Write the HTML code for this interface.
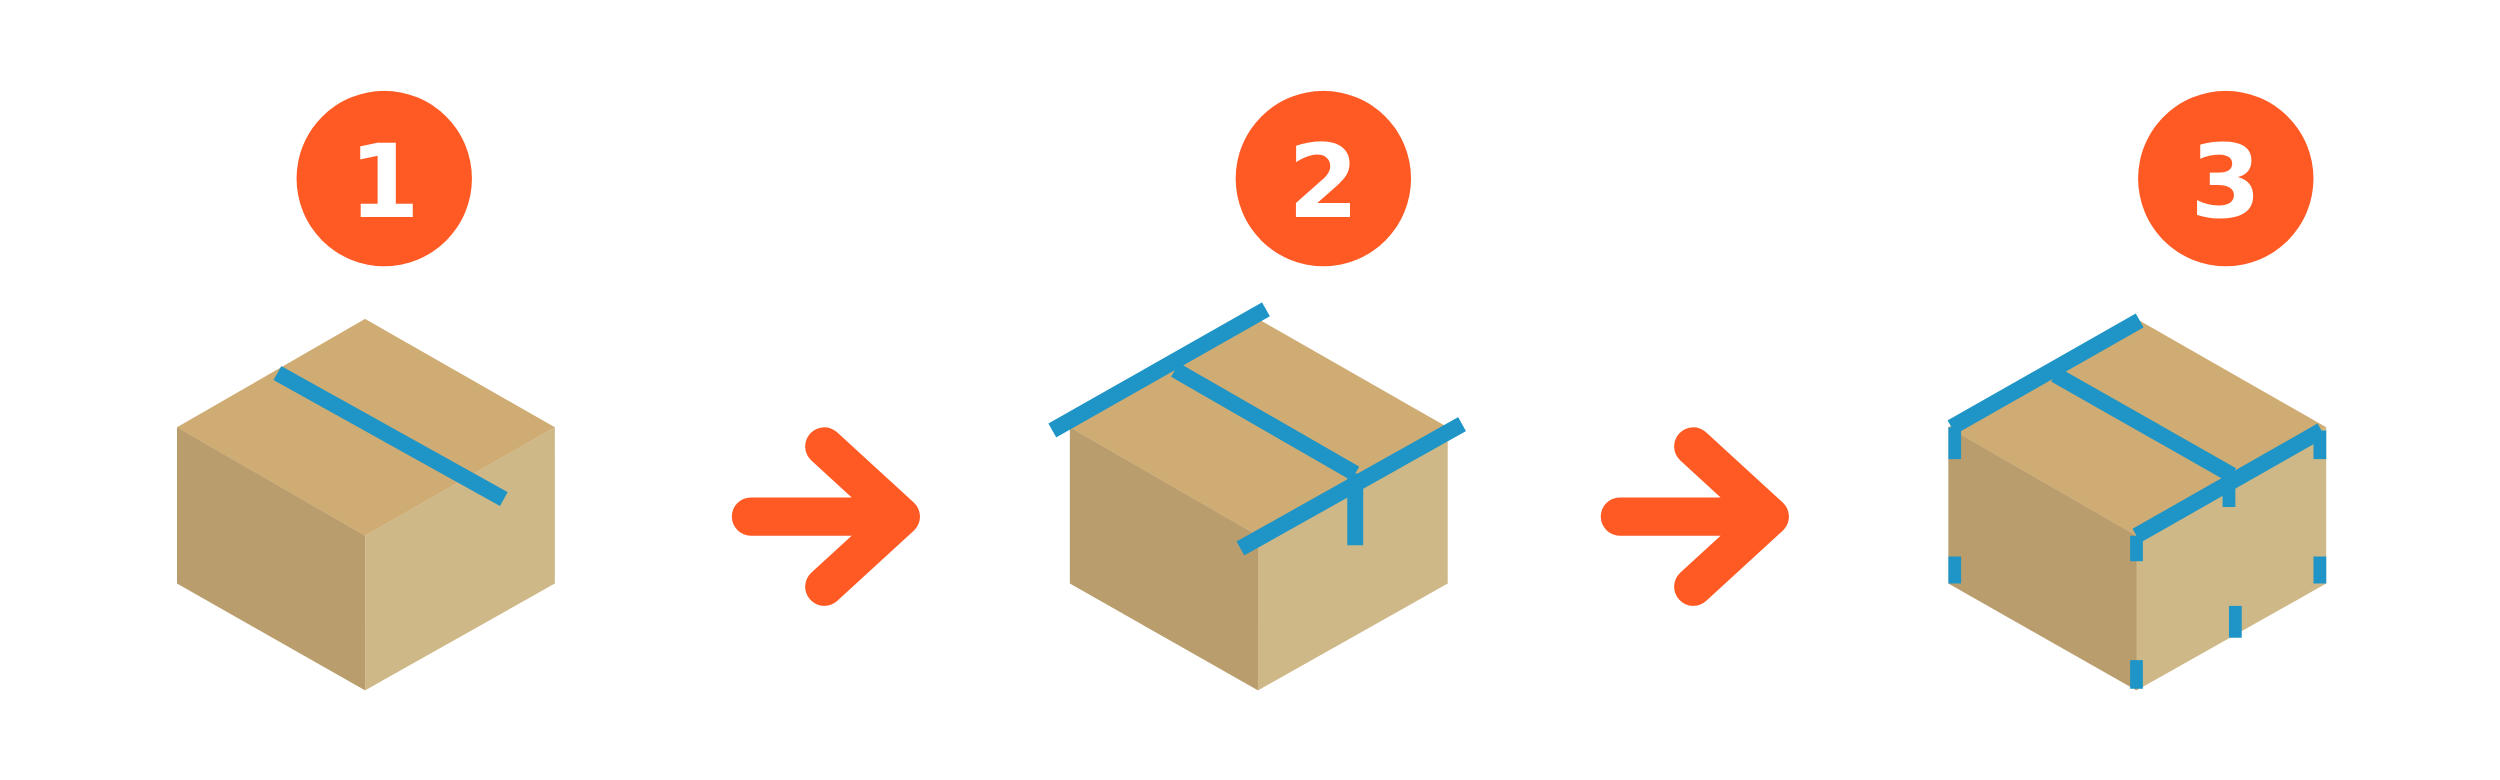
<!DOCTYPE html>
<html><head><meta charset="utf-8"><style>html,body{margin:0;padding:0;background:#fff}svg{display:block}</style></head>
<body>
<svg width="2500" height="780" xmlns="http://www.w3.org/2000/svg">
<g transform="scale(1.5944)">
<circle cx="241" cy="112" r="55" fill="#FF5A24"/>
<circle cx="830" cy="112" r="55" fill="#FF5A24"/>
<circle cx="1396" cy="112" r="55" fill="#FF5A24"/>
<text x="241" y="136" fill="#fff" text-anchor="middle" style="font-family:'DejaVu Sans','Liberation Sans',sans-serif;font-weight:bold;font-size:64px">1</text>
<text x="830" y="136" fill="#fff" text-anchor="middle" style="font-family:'DejaVu Sans','Liberation Sans',sans-serif;font-weight:bold;font-size:64px">2</text>
<text x="1396" y="136" fill="#fff" text-anchor="middle" style="font-family:'DejaVu Sans','Liberation Sans',sans-serif;font-weight:bold;font-size:64px">3</text>

<g fill="none" stroke="#FF5A24" stroke-width="24" stroke-linejoin="round" stroke-linecap="round">
<line x1="471" y1="324" x2="556" y2="324"/>
<polyline points="517,280 565,324 517,368"/>
<line x1="1016" y1="324" x2="1101" y2="324"/>
<polyline points="1062,280 1110,324 1062,368"/>
</g>

<polygon points="229,200 348,268 229,336 111,268" fill="#CFAC74"/>
<polygon points="111,268 229,336 229,433 111,366" fill="#BA9D6C"/>
<polygon points="229,336 348,268 348,366 229,433" fill="#CFB887"/>
<g stroke="#1E95C6" stroke-width="10" fill="none">
<line x1="174" y1="234" x2="316" y2="313"/>
</g>

<polygon points="789,200 908,268 789,336 671,268" fill="#CFAC74"/>
<polygon points="671,268 789,336 789,433 671,366" fill="#BA9D6C"/>
<polygon points="789,336 908,268 908,366 789,433" fill="#CFB887"/>
<g stroke="#1E95C6" stroke-width="10" fill="none">
<line x1="660" y1="270" x2="794" y2="194"/>
<line x1="737" y1="232" x2="850" y2="297"/>
<line x1="778" y1="344" x2="917" y2="266"/>
<line x1="850" y1="297" x2="850" y2="342"/>
</g>

<polygon points="1340,200 1459,268 1340,336 1222,268" fill="#CFAC74"/>
<polygon points="1222,268 1340,336 1340,433 1222,366" fill="#BA9D6C"/>
<polygon points="1340,336 1459,268 1459,366 1340,433" fill="#CFB887"/>
<g stroke="#1E95C6" stroke-width="10" fill="none">
<line x1="1224" y1="268" x2="1342" y2="201"/>
<line x1="1289" y1="235" x2="1400" y2="298"/>
<line x1="1340" y1="336" x2="1456" y2="270"/>
</g>
<g stroke="#1E95C6" stroke-width="8" fill="none">
<line x1="1226" y1="268" x2="1226" y2="288"/>
<line x1="1340" y1="336" x2="1340" y2="352"/>
<line x1="1455" y1="270" x2="1455" y2="288"/>
<line x1="1398" y1="300" x2="1398" y2="318"/>
<line x1="1226" y1="349" x2="1226" y2="366"/>
<line x1="1455" y1="349" x2="1455" y2="366"/>
<line x1="1340" y1="414" x2="1340" y2="432"/>
<line x1="1402" y1="380" x2="1402" y2="400"/>
</g>
</g>
</svg>
</body></html>
